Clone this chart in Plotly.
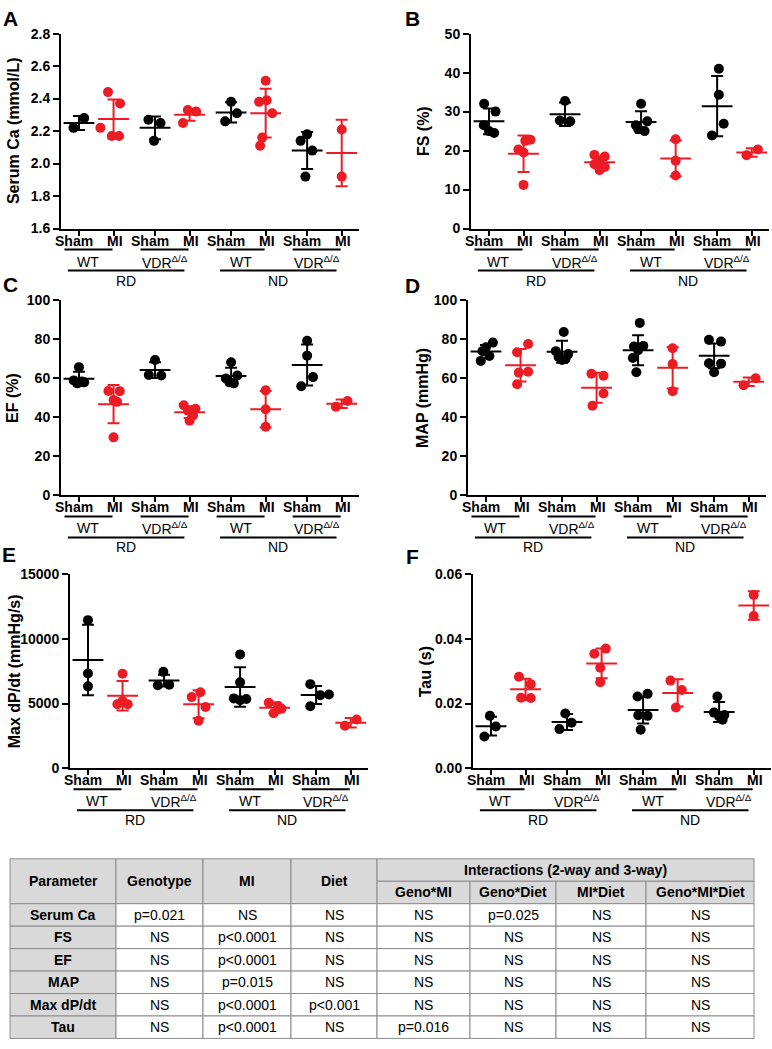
import plotly.graph_objects as go

FONT = "Liberation Sans, Arial, sans-serif"
BLACK = "#000000"
RED = "#ec1c24"
GRAY_FILL = "#d9d9d9"
GRAY_LINE = "#8c8c8c"
W, H = 772, 1049

# category labels (8 groups per panel)
groups = ["Sham", "MI", "Sham", "MI", "Sham", "MI", "Sham", "MI"]
genotypes = ["WT", "VDR<sup>Δ/Δ</sup>", "WT", "VDR<sup>Δ/Δ</sup>"]
diets = ["RD", "ND"]

# --- A: serum Ca (mmol/L)
ca_vals = [[2.22, 2.28], [2.44, 2.37, 2.22, 2.17, 2.17], [2.27, 2.25, 2.14],
           [2.25, 2.33, 2.32], [2.38, 2.31, 2.26], [2.51, 2.38, 2.39, 2.31, 2.16, 2.11],
           [2.18, 2.14, 2.08, 1.92], [2.21, 1.92]]
ca_jit = [[-0.16, 0.15], [-0.16, 0.19, -0.38, -0.05, 0.16], [-0.19, 0.16, -0.03],
          [-0.19, -0.05, 0.19], [0.0, 0.17, -0.17], [0.0, -0.19, 0.03, 0.19, -0.1, -0.16],
          [0.0, -0.19, 0.15, -0.05], [0.0, 0.0]]
ca_mean = [2.25, 2.275, 2.22, 2.30, 2.315, 2.31, 2.08, 2.065]
ca_sd = [0.043, 0.12, 0.07, 0.037, 0.062, 0.15, 0.114, 0.205]

# --- B: FS (%)
fs_vals = [[32.0, 30.0, 26.5, 25.0, 24.5], [22.8, 22.5, 20.3, 19.5, 11.2], [32.7, 27.7, 27.5],
           [18.9, 18.5, 17.0, 16.5, 15.8, 15.0], [32.0, 27.5, 26.5, 25.5, 25.0],
           [22.9, 17.4, 13.6], [41.0, 34.3, 26.9, 23.9], [18.8, 20.3]]
fs_jit = [[-0.14, 0.19, -0.15, 0.0, 0.15], [0.2, 0.05, -0.15, 0.0, 0.0], [0.0, -0.15, 0.15],
          [-0.15, 0.15, 0.0, -0.15, 0.15, 0.0], [0.0, 0.18, -0.15, -0.08, 0.1],
          [0.0, 0.0, 0.0], [0.05, 0.05, 0.19, -0.15], [-0.15, 0.18]]
fs_mean = [27.5, 19.2, 29.3, 17.0, 27.3, 18.0, 31.4, 19.5]
fs_sd = [3.3, 4.7, 3.0, 1.4, 2.8, 4.6, 7.7, 1.1]

# --- C: EF (%)
ef_vals = [[65.8, 59.0, 58.0, 57.5, 58.5], [53.6, 53.5, 48.9, 48.0, 29.8], [69.5, 61.8, 61.5],
           [46.3, 44.5, 43.5, 41.0, 38.3], [68.3, 61.5, 60.0, 58.0, 57.5],
           [53.9, 44.2, 35.2], [79.3, 71.7, 60.7, 56.0], [45.5, 48.4]]
ef_jit = [[0.0, -0.15, 0.15, -0.05, 0.08], [-0.15, 0.18, 0.0, 0.1, 0.0], [0.0, -0.18, 0.18],
          [-0.17, 0.17, -0.05, 0.1, 0.0], [0.0, 0.18, -0.15, -0.05, 0.08],
          [0.0, 0.0, 0.0], [0.0, 0.0, 0.17, -0.17], [-0.17, 0.17]]
ef_mean = [59.8, 46.8, 64.3, 42.7, 61.3, 44.2, 66.9, 47.0]
ef_sd = [3.6, 9.8, 4.0, 3.0, 4.2, 9.4, 10.5, 2.2]

# --- D: MAP (mmHg)
map_vals = [[78.4, 76.0, 74.0, 71.5, 69.0], [77.7, 73.4, 63.4, 63.0, 57.0],
            [83.8, 74.0, 72.5, 71.0, 70.0, 69.5], [62.4, 61.4, 52.3, 46.0],
            [88.5, 76.7, 76.4, 74.5, 70.5, 63.2], [75.5, 67.4, 53.5],
            [79.8, 78.9, 67.6, 67.8, 63.2], [56.5, 60.1]]
map_jit = [[0.2, 0.0, -0.1, 0.1, -0.15], [0.22, -0.1, 0.22, -0.05, -0.1],
           [0.05, -0.18, 0.18, -0.1, 0.1, 0.0], [-0.15, 0.2, 0.2, -0.12],
           [0.05, 0.15, -0.12, 0.0, -0.15, -0.05], [0.0, 0.0, 0.0],
           [-0.15, 0.2, 0.2, -0.15, 0.0], [-0.15, 0.2]]
map_mean = [73.8, 66.8, 73.7, 55.2, 74.5, 65.5, 71.6, 58.3]
map_sd = [3.3, 8.3, 5.7, 7.7, 7.7, 10.7, 6.3, 2.2]

# --- E: Max dP/dt (mmHg/s)
dpdt_vals = [[11450, 7320, 6330], [7300, 5200, 4950, 4950], [7450, 6420, 6450],
             [5880, 5500, 4740, 3680], [8800, 6640, 5400, 5350, 5250],
             [5070, 4800, 4600, 4250], [6500, 5650, 5700, 4790], [3290, 3770]]
dpdt_jit = [[0.0, 0.0, 0.0], [0.0, 0.0, -0.15, 0.15], [-0.02, -0.18, 0.15],
            [0.05, -0.2, 0.2, 0.0], [0.0, 0.0, -0.18, 0.18, 0.0],
            [-0.17, 0.1, 0.2, -0.03], [-0.17, 0.12, 0.37, -0.17], [-0.17, 0.17]]
dpdt_mean = [8370, 5600, 6780, 4950, 6280, 4680, 5660, 3520]
dpdt_sd = [2720, 1140, 456, 1077, 1520, 420, 697, 367]

# --- F: Tau (s)
tau_vals = [[0.0162, 0.0129, 0.0098], [0.0283, 0.0260, 0.0218, 0.0217], [0.0169, 0.0141, 0.0121],
            [0.0354, 0.0370, 0.0311, 0.0266], [0.0222, 0.0230, 0.0164, 0.0162, 0.0119],
            [0.0271, 0.0242, 0.0188], [0.0222, 0.0172, 0.0165, 0.0160, 0.0150], [0.0536, 0.0471]]
tau_jit = [[-0.03, 0.14, -0.19], [-0.19, 0.15, -0.13, 0.15], [-0.05, 0.13, -0.22],
           [-0.21, 0.12, -0.04, -0.04], [-0.16, 0.13, -0.14, 0.13, -0.07],
           [-0.21, 0.12, -0.05], [-0.05, -0.15, 0.15, 0.0, 0.1], [0.0, 0.0]]
tau_mean = [0.0130, 0.0244, 0.0143, 0.0324, 0.0180, 0.0233, 0.0174, 0.0503]
tau_sd = [0.0029, 0.0033, 0.0025, 0.0046, 0.0042, 0.0042, 0.0031, 0.0044]

# --- statistics table
table_cols = ["Parameter", "Genotype", "MI", "Diet", "Geno*MI", "Geno*Diet", "MI*Diet", "Geno*MI*Diet"]
table_group = "Interactions (2-way and 3-way)"
table_params = ["Serum Ca", "FS", "EF", "MAP", "Max dP/dt", "Tau"]
table_vals = [
    ["p=0.021", "NS", "NS", "NS", "p=0.025", "NS", "NS"],
    ["NS", "p<0.0001", "NS", "NS", "NS", "NS", "NS"],
    ["NS", "p<0.0001", "NS", "NS", "NS", "NS", "NS"],
    ["NS", "p=0.015", "NS", "NS", "NS", "NS", "NS"],
    ["NS", "p<0.0001", "p<0.001", "NS", "NS", "NS", "NS"],
    ["NS", "p<0.0001", "NS", "p=0.016", "NS", "NS", "NS"],
]

# x position of each group: pairs separated by a small gap
cat_x = [p * 2.2 + i for p in range(4) for i in range(2)]
XR = [-0.52, 8.1]

panels = [
    dict(letter="A", title="Serum Ca (mmol/L)", vals=ca_vals, jit=ca_jit, mean=ca_mean, sd=ca_sd,
         yr=[1.6, 2.8], dtick=0.2, fmt=".1f", box=(61, 26, 359, 224), lpos=(10, 11), tx=13),
    dict(letter="B", title="FS (%)", vals=fs_vals, jit=fs_jit, mean=fs_mean, sd=fs_sd,
         yr=[0, 50], dtick=10, fmt="d", box=(471, 26, 769, 224), lpos=(412, 11), tx=423),
    dict(letter="C", title="EF (%)", vals=ef_vals, jit=ef_jit, mean=ef_mean, sd=ef_sd,
         yr=[0, 100], dtick=20, fmt="d", box=(61, 297, 359, 495), lpos=(10, 281), tx=13),
    dict(letter="D", title="MAP (mmHg)", vals=map_vals, jit=map_jit, mean=map_mean, sd=map_sd,
         yr=[0, 100], dtick=20, fmt="d", box=(468, 297, 766, 495), lpos=(412, 282), tx=423),
    dict(letter="E", title="Max dP/dt (mmHg/s)", vals=dpdt_vals, jit=dpdt_jit, mean=dpdt_mean, sd=dpdt_sd,
         yr=[0, 15000], dtick=5000, fmt="d", box=(70, 575, 368, 772), lpos=(9, 555), tx=14),
    dict(letter="F", title="Tau (s)", vals=tau_vals, jit=tau_jit, mean=tau_mean, sd=tau_sd,
         yr=[0, 0.06], dtick=0.02, fmt=".2f", box=(473, 575, 771, 772), lpos=(412, 557), tx=425),
]

fig = go.Figure()
layout = {}
shapes = []
annots = []


def px_x(v):
    return v / W


def px_y(v):
    return 1 - v / H


for i, pn in enumerate(panels):
    suf = "" if i == 0 else str(i + 1)
    xa, ya = "x" + suf, "y" + suf
    l, t, r, b = pn["box"]
    for g in range(8):
        col = BLACK if g % 2 == 0 else RED
        fig.add_trace(go.Scatter(
            x=[cat_x[g] + j for j in pn["jit"][g]], y=pn["vals"][g], mode="markers",
            marker=dict(size=10, color=col), xaxis=xa, yaxis=ya, showlegend=False,
            hoverinfo="y"))
    for g in range(8):
        col = BLACK if g % 2 == 0 else RED
        fig.add_trace(go.Scatter(
            x=[cat_x[g]], y=[pn["mean"][g]], mode="markers",
            marker=dict(symbol="line-ew", size=22, line=dict(width=2, color=col)),
            error_y=dict(type="data", array=[pn["sd"][g]], color=col, thickness=2, width=6),
            xaxis=xa, yaxis=ya, showlegend=False, hoverinfo="y"))

    layout["xaxis" + suf] = dict(
        domain=[px_x(l), px_x(r)], range=XR, anchor=ya, showline=True, linewidth=2, linecolor=BLACK,
        ticks="outside", ticklen=5, tickwidth=2, tickcolor=BLACK, tickvals=cat_x,
        showticklabels=False, showgrid=False, zeroline=False, fixedrange=True)
    layout["yaxis" + suf] = dict(
        domain=[px_y(b), px_y(t)], range=pn["yr"], anchor=xa, showline=True, linewidth=2,
        linecolor=BLACK, ticks="outside", ticklen=6, tickwidth=2, tickcolor=BLACK,
        dtick=pn["dtick"], tick0=pn["yr"][0], tickformat=pn["fmt"],
        tickfont=dict(family=FONT, size=14, color=BLACK, weight="bold"), showgrid=False,
        zeroline=False, fixedrange=True)

    # Sham / MI labels under each tick
    for g in range(8):
        annots.append(dict(text=groups[g], xref=xa, yref=ya + " domain", x=cat_x[g], y=0,
                           yshift=-12, xshift=-5 if g % 2 == 0 else 1, showarrow=False,
                           yanchor="middle",
                           font=dict(family=FONT, size=14, color=BLACK, weight="bold")))

    # genotype / diet grouping lines under the axis
    for p in range(4):
        x0, x1 = cat_x[2 * p] - 0.42, cat_x[2 * p + 1] - 0.03
        shapes.append(dict(type="line", xref=xa, yref=ya + " domain", ysizemode="pixel", yanchor=0,
                           x0=x0, x1=x1, y0=-21, y1=-21, line=dict(color=BLACK, width=2)))
        annots.append(dict(text=genotypes[p], xref=xa, yref=ya + " domain", x=(x0 + x1) / 2, y=0,
                           yshift=-33, showarrow=False, yanchor="middle",
                           font=dict(family=FONT, size=14, color=BLACK)))
    for d in range(2):
        x0, x1 = cat_x[4 * d] - 0.32, cat_x[4 * d + 3] - 0.15
        shapes.append(dict(type="line", xref=xa, yref=ya + " domain", ysizemode="pixel", yanchor=0,
                           x0=x0, x1=x1, y0=-42, y1=-42, line=dict(color=BLACK, width=2)))
        annots.append(dict(text=diets[d], xref=xa, yref=ya + " domain", x=(x0 + x1) / 2, y=0,
                           yshift=-52, showarrow=False, yanchor="middle",
                           font=dict(family=FONT, size=14, color=BLACK)))

    annots.append(dict(text=pn["title"], xref="paper", yref="paper", x=px_x(pn["tx"]),
                       y=px_y((t + b) / 2), textangle=-90, showarrow=False,
                       xanchor="center", yanchor="middle",
                       font=dict(family=FONT, size=16, color=BLACK, weight="bold")))
    annots.append(dict(text=pn["letter"], xref="paper", yref="paper", x=px_x(pn["lpos"][0]),
                       y=px_y(pn["lpos"][1]), showarrow=False, xanchor="center", yanchor="middle",
                       font=dict(family=FONT, size=21, color=BLACK, weight="bold")))

# --- table drawn on its own axis pair (x in px-like units, y in rows)
col_w = [106, 87, 88, 86, 93, 86, 90, 108]
edges = [0]
for w in col_w:
    edges.append(edges[-1] + w)
n_rows = 2 + len(table_params)
tl, tt, row_h = 10, 864, 22.8
tb = tt + n_rows * row_h
pad = 1.0
layout["xaxis7"] = dict(domain=[px_x(tl - pad), px_x(tl + edges[-1] + pad)], range=[-pad, edges[-1] + pad],
                        anchor="y7", visible=False, fixedrange=True)
layout["yaxis7"] = dict(domain=[px_y(tb + pad), px_y(tt - pad)],
                        range=[n_rows + pad / row_h, -pad / row_h], anchor="x7", visible=False,
                        fixedrange=True)
fig.add_trace(go.Scatter(x=[None], y=[None], xaxis="x7", yaxis="y7", showlegend=False))


def cell(x0, x1, y0, y1, fill):
    shapes.append(dict(type="rect", xref="x7", yref="y7", x0=x0, x1=x1, y0=y0, y1=y1,
                       fillcolor=fill, line=dict(color=GRAY_LINE, width=1), layer="below"))


def ctext(txt, x, y, bold):
    annots.append(dict(text=txt.replace("<", "&lt;"), xref="x7", yref="y7", x=x, y=y, showarrow=False,
                       xanchor="center", yanchor="middle",
                       font=dict(family=FONT, size=14, color=BLACK, weight="bold" if bold else "normal")))


for c in range(4):
    cell(edges[c], edges[c + 1], 0, 2, GRAY_FILL)
    ctext(table_cols[c], (edges[c] + edges[c + 1]) / 2, 1, True)
cell(edges[4], edges[8], 0, 1, GRAY_FILL)
ctext(table_group, (edges[4] + edges[8]) / 2, 0.5, True)
for c in range(4, 8):
    cell(edges[c], edges[c + 1], 1, 2, GRAY_FILL)
    ctext(table_cols[c], (edges[c] + edges[c + 1]) / 2, 1.5, True)
for rI, name in enumerate(table_params):
    y0 = 2 + rI
    cell(edges[0], edges[1], y0, y0 + 1, GRAY_FILL)
    ctext(name, (edges[0] + edges[1]) / 2, y0 + 0.5, True)
    for c, v in enumerate(table_vals[rI]):
        cell(edges[c + 1], edges[c + 2], y0, y0 + 1, "#ffffff")
        ctext(v, (edges[c + 1] + edges[c + 2]) / 2, y0 + 0.5, False)

fig.update_layout(
    **layout,
    width=W, height=H, autosize=False,
    margin=dict(l=0, r=0, t=0, b=0),
    paper_bgcolor="white", plot_bgcolor="rgba(0,0,0,0)",
    showlegend=False, shapes=shapes, annotations=annots,
    font=dict(family=FONT, color=BLACK),
)

fig.write_html("out.html", config={"displayModeBar": False},
               post_script="document.body.style.margin='0';")
